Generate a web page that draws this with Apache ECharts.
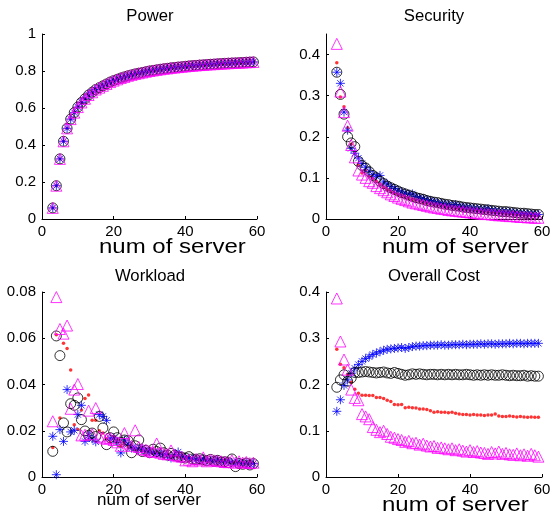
<!DOCTYPE html>
<html><head><meta charset="utf-8">
<script src="https://cdn.jsdelivr.net/npm/echarts@6/dist/echarts.min.js"></script>
<style>html,body{margin:0;padding:0;background:#fff}#c{width:558px;height:516px}</style>
</head><body><div id="c"></div>
<script>
const xs = [3,4,5,6,7,8,9,10,11,12,13,14,15,16,17,18,19,20,21,22,23,24,25,26,27,28,29,30,31,32,33,34,35,36,37,38,39,40,41,42,43,44,45,46,47,48,49,50,51,52,53,54,55,56,57,58,59];

const titles = ['Power', 'Security', 'Workload', 'Overall Cost'];
const xName = 'num of server';
const xTicks = [0, 20, 40, 60];
const yTicksPower = [0, 0.2, 0.4, 0.6, 0.8, 1];
const yTicksSecurity = [0, 0.1, 0.2, 0.3, 0.4];
const yTicksWorkload = [0, 0.02, 0.04, 0.06, 0.08];
const yTicksCost = [0, 0.1, 0.2, 0.3, 0.4];

// Power (all four methods coincide)
const powerAll = [0.06,0.18,0.325,0.42,0.49,0.54,0.575,0.605,0.63,0.65,0.67,0.685,0.70,0.71,0.72,0.73,0.74,0.748,0.755,0.762,0.768,0.774,0.779,0.784,0.788,0.792,0.796,0.80,0.803,0.806,0.809,0.812,0.814,0.817,0.819,0.821,0.823,0.825,0.827,0.829,0.83,0.832,0.833,0.835,0.836,0.837,0.839,0.84,0.841,0.842,0.843,0.844,0.845,0.846,0.847,0.848,0.849];

// Security
const secDot = [0.380,0.297,0.273,0.222,0.182,0.160,0.131,0.112,0.118,0.104,0.099,0.092,0.085,0.078,0.072,0.068,0.064,0.060,0.057,0.054,0.051,0.048,0.046,0.044,0.041,0.039,0.037,0.035,0.034,0.032,0.030,0.029,0.028,0.026,0.025,0.024,0.023,0.022,0.021,0.020,0.019,0.018,0.017,0.016,0.016,0.015,0.014,0.013,0.013,0.012,0.011,0.011,0.010,0.009,0.009,0.008,0.008];
const secStar = [0.357,0.330,0.260,0.216,0.172,0.160,0.148,0.135,0.126,0.116,0.108,0.104,0.106,0.090,0.085,0.079,0.074,0.070,0.066,0.063,0.060,0.061,0.055,0.052,0.050,0.047,0.045,0.042,0.040,0.038,0.037,0.035,0.033,0.035,0.031,0.030,0.028,0.028,0.026,0.025,0.024,0.023,0.025,0.021,0.020,0.019,0.018,0.018,0.017,0.016,0.015,0.014,0.014,0.013,0.012,0.012,0.011];
const secCircle = [0.357,0.303,0.255,0.200,0.185,0.176,0.140,0.130,0.124,0.115,0.106,0.100,0.092,0.086,0.080,0.076,0.072,0.068,0.064,0.061,0.058,0.055,0.052,0.050,0.048,0.045,0.043,0.041,0.040,0.038,0.036,0.035,0.033,0.032,0.031,0.029,0.028,0.027,0.026,0.025,0.024,0.023,0.022,0.021,0.020,0.019,0.018,0.018,0.017,0.016,0.015,0.014,0.014,0.013,0.012,0.011,0.011];
const secTri = [0.426,0.310,0.260,0.227,0.180,0.150,0.118,0.108,0.100,0.092,0.088,0.080,0.075,0.070,0.065,0.060,0.056,0.052,0.049,0.046,0.043,0.040,0.038,0.036,0.034,0.032,0.030,0.028,0.027,0.025,0.024,0.022,0.021,0.020,0.019,0.018,0.017,0.016,0.015,0.014,0.013,0.012,0.012,0.011,0.010,0.009,0.009,0.008,0.007,0.007,0.006,0.005,0.005,0.004,0.004,0.003,0.003];

// Workload
const wlDot = [0.0128,0.0615,0.0255,0.0578,0.0556,0.0463,0.0226,0.0205,0.029,0.034,0.0355,0.0245,0.0245,0.020,0.019,0.0165,0.015,0.0175,0.016,0.0135,0.015,0.013,0.0135,0.012,0.0125,0.0115,0.011,0.0112,0.0105,0.0108,0.010,0.0095,0.0098,0.009,0.0092,0.0088,0.0085,0.0082,0.0084,0.0078,0.0076,0.0078,0.0072,0.0074,0.007,0.0072,0.0068,0.0069,0.0066,0.0066,0.0064,0.0065,0.0062,0.0063,0.0061,0.0062,0.006];
const wlStar = [0.0176,0.001,0.0205,0.0154,0.0378,0.0195,0.0202,0.027,0.031,0.0154,0.018,0.0165,0.0152,0.027,0.0262,0.0245,0.0165,0.017,0.015,0.0104,0.016,0.0142,0.0125,0.0125,0.0118,0.0125,0.0112,0.011,0.0105,0.0102,0.010,0.0098,0.0092,0.0082,0.0095,0.0108,0.0088,0.0085,0.0082,0.0078,0.0076,0.0072,0.0078,0.007,0.0072,0.0068,0.0075,0.0066,0.0064,0.0068,0.0062,0.006,0.0062,0.0058,0.006,0.0056,0.0058];
const wlCircle = [0.0111,0.061,0.0525,0.0234,0.0195,0.0317,0.031,0.0342,0.0248,0.0199,0.018,0.019,0.0175,0.0262,0.0212,0.014,0.017,0.0195,0.017,0.015,0.016,0.0157,0.0105,0.0135,0.016,0.011,0.0115,0.0105,0.012,0.011,0.0125,0.0105,0.0095,0.0102,0.0094,0.0088,0.0085,0.0082,0.0088,0.0078,0.0075,0.0079,0.0074,0.007,0.0076,0.0068,0.0072,0.0065,0.0066,0.0062,0.0078,0.0045,0.0058,0.0055,0.006,0.0052,0.0058];
const wlTri = [0.0241,0.0778,0.064,0.062,0.0655,0.0295,0.0378,0.0402,0.018,0.0183,0.0287,0.0185,0.0298,0.0175,0.017,0.0165,0.0168,0.016,0.015,0.0135,0.019,0.0145,0.0135,0.0202,0.013,0.012,0.0118,0.0112,0.0108,0.0145,0.0105,0.010,0.0098,0.0115,0.0095,0.009,0.0088,0.0072,0.0075,0.0068,0.0078,0.0072,0.0085,0.0068,0.0075,0.0072,0.007,0.0068,0.0065,0.0064,0.0072,0.0062,0.0068,0.0062,0.0065,0.006,0.0062];

// Overall cost
const ocDot = [0.276,0.244,0.236,0.222,0.205,0.19,0.181,0.177,0.177,0.176,0.176,0.172,0.172,0.17,0.166,0.163,0.157,0.156,0.157,0.15,0.151,0.15,0.149,0.147,0.147,0.146,0.143,0.14,0.141,0.14,0.14,0.139,0.14,0.138,0.136,0.135,0.135,0.134,0.135,0.134,0.134,0.133,0.134,0.134,0.136,0.132,0.131,0.131,0.132,0.131,0.13,0.131,0.13,0.129,0.13,0.129,0.129];
const ocStar = [0.142,0.167,0.198,0.21,0.224,0.235,0.243,0.25,0.256,0.26,0.265,0.268,0.271,0.274,0.276,0.277,0.278,0.279,0.28,0.278,0.28,0.282,0.283,0.283,0.284,0.284,0.285,0.285,0.285,0.286,0.285,0.285,0.286,0.286,0.286,0.287,0.286,0.287,0.287,0.287,0.288,0.287,0.288,0.288,0.287,0.288,0.288,0.288,0.289,0.288,0.289,0.289,0.288,0.289,0.289,0.289,0.289];
const ocCircle = [0.194,0.21,0.221,0.207,0.214,0.226,0.226,0.227,0.228,0.227,0.226,0.225,0.226,0.227,0.225,0.224,0.226,0.224,0.222,0.22,0.221,0.223,0.222,0.223,0.222,0.221,0.222,0.222,0.221,0.222,0.221,0.222,0.221,0.222,0.221,0.221,0.222,0.221,0.22,0.221,0.22,0.221,0.22,0.221,0.22,0.22,0.221,0.22,0.219,0.22,0.219,0.219,0.22,0.218,0.219,0.218,0.218];
const ocTri = [0.386,0.293,0.254,0.232,0.189,0.171,0.166,0.136,0.131,0.125,0.108,0.102,0.097,0.1,0.093,0.087,0.085,0.082,0.08,0.076,0.078,0.073,0.074,0.07,0.072,0.068,0.066,0.067,0.063,0.064,0.062,0.06,0.062,0.058,0.06,0.057,0.055,0.058,0.054,0.056,0.053,0.052,0.05,0.054,0.051,0.055,0.05,0.052,0.049,0.048,0.051,0.047,0.049,0.046,0.05,0.047,0.044];

const FONT = 'Liberation Sans, Arial, Helvetica, sans-serif';
const STAR = 'path://M5,0L5,10M0,5L10,5M1.5,1.5L8.5,8.5M1.5,8.5L8.5,1.5';

const grids = [
  {left: 42, top: 34, width: 215, height: 185},
  {left: 326, top: 34, width: 216, height: 185},
  {left: 42, top: 292, width: 215, height: 185},
  {left: 326, top: 292, width: 216, height: 185}
];
const yTickSets = [yTicksPower, yTicksSecurity, yTicksWorkload, yTicksCost];
const yMax = [1, 0.45, 0.08, 0.4];

const xAxes = grids.map((g, i) => ({
  gridIndex: i, type: 'value', min: 0, max: 60, interval: 20,
  axisLine: {show: true, onZero: false, lineStyle: {color: '#000', width: 1}},
  axisTick: {show: true, inside: true, length: 3, lineStyle: {color: '#000'}, customValues: xTicks},
  axisLabel: {fontFamily: FONT, fontSize: 15, color: '#000', margin: 5, customValues: xTicks},
  splitLine: {show: false}
}));
const yAxes = grids.map((g, i) => ({
  gridIndex: i, type: 'value', min: 0, max: yMax[i],
  axisLine: {show: true, onZero: false, lineStyle: {color: '#000', width: 1}},
  axisTick: {show: true, inside: true, length: 3, lineStyle: {color: '#000'}, customValues: yTickSets[i]},
  axisLabel: {fontFamily: FONT, fontSize: 15, color: '#000', margin: 6, customValues: yTickSets[i],
    formatter: v => String(+v.toFixed(4))},
  splitLine: {show: false}
}));

function pts(vals) { return xs.map((x, k) => [x, vals[k]]); }
function dot(i, vals) {
  return {type: 'scatter', xAxisIndex: i, yAxisIndex: i, data: pts(vals), symbol: 'circle', symbolSize: 3.5,
    itemStyle: {color: '#ff0000'}, clip: false, silent: true};
}
function star(i, vals) {
  return {type: 'scatter', xAxisIndex: i, yAxisIndex: i, data: pts(vals), symbol: STAR, symbolSize: 9,
    itemStyle: {color: 'transparent', borderColor: '#0000ff', borderWidth: 1}, clip: false, silent: true};
}
function circ(i, vals) {
  return {type: 'scatter', xAxisIndex: i, yAxisIndex: i, data: pts(vals), symbol: 'circle', symbolSize: 10,
    itemStyle: {color: 'transparent', borderColor: '#000000', borderWidth: 1}, clip: false, silent: true};
}
function tri(i, vals) {
  return {type: 'scatter', xAxisIndex: i, yAxisIndex: i, data: pts(vals), symbol: 'triangle', symbolSize: 11,
    itemStyle: {color: 'transparent', borderColor: '#ff00ff', borderWidth: 1}, clip: false, silent: true};
}

const series = [
  dot(0, powerAll), star(0, powerAll), circ(0, powerAll), tri(0, powerAll),
  dot(1, secDot), star(1, secStar), circ(1, secCircle), tri(1, secTri),
  dot(2, wlDot), star(2, wlStar), circ(2, wlCircle), tri(2, wlTri),
  dot(3, ocDot), star(3, ocStar), circ(3, ocCircle), tri(3, ocTri)
];

const titlePos = [[150, 16], [434, 16], [150, 276], [434, 276]];
const graphic = titles.map((t, i) => ({
  type: 'text', x: titlePos[i][0], y: titlePos[i][1], silent: true,
  style: {text: t, textAlign: 'center', textVerticalAlign: 'middle', font: '16.7px ' + FONT, fill: '#000'}
}));
// x-axis labels ("num of server"): three are drawn larger and left-anchored, one smaller and centred
const xNameSpecs = [
  {x: 99, y: 247, size: 20, sx: 1.2, align: 'left'},
  {x: 382, y: 247, size: 20, sx: 1.2, align: 'left'},
  {x: 149, y: 500, size: 17, sx: 1, align: 'center'},
  {x: 382, y: 505, size: 20, sx: 1.2, align: 'left'}
];
xNameSpecs.forEach(s => graphic.push({
  type: 'text', x: s.x, y: s.y, scaleX: s.sx, silent: true,
  style: {text: xName, textAlign: s.align, textVerticalAlign: 'middle', font: s.size + 'px ' + FONT, fill: '#000'}
}));

const chart = echarts.init(document.getElementById('c'), null, {renderer: 'canvas'});
chart.setOption({
  animation: false,
  backgroundColor: '#fff',
  grid: grids,
  xAxis: xAxes,
  yAxis: yAxes,
  series: series,
  graphic: graphic
});
</script></body></html>
